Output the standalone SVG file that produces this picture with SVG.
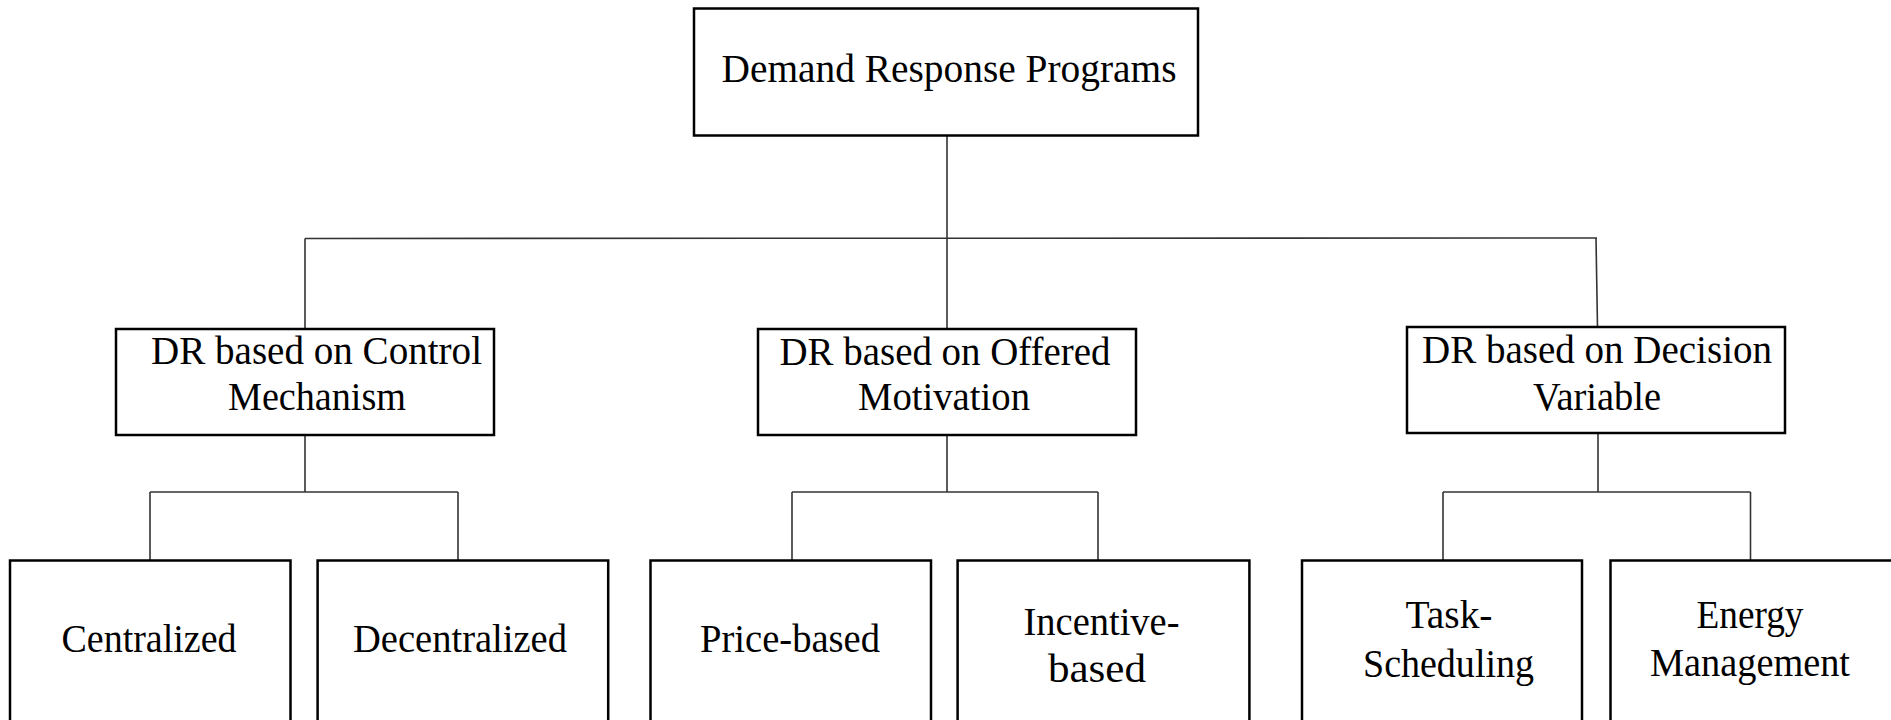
<svg xmlns="http://www.w3.org/2000/svg" width="1891" height="720" viewBox="0 0 1891 720">
<style>
.box{fill:#fff;stroke:#000;stroke-width:2.5}
.lbl{font-family:"Liberation Serif","Times New Roman",serif;font-size:40px;fill:#000;text-anchor:middle}
.conn line{stroke:#333;stroke-width:1.6;fill:none}
</style>
<rect width="1891" height="720" fill="#fff"/>
<g id="connectors" class="conn">
<line x1="947" y1="135" x2="947" y2="238"/>
<line x1="305" y1="238.5" x2="1597" y2="238"/>
<line x1="305" y1="238.5" x2="305" y2="329"/>
<line x1="947" y1="238" x2="947" y2="329"/>
<line x1="1596" y1="238" x2="1597.5" y2="327"/>
<line x1="305" y1="435" x2="305" y2="492"/>
<line x1="150" y1="492" x2="458" y2="492"/>
<line x1="150" y1="492" x2="150" y2="560"/>
<line x1="458" y1="492" x2="458" y2="560"/>
<line x1="947" y1="435" x2="947" y2="492"/>
<line x1="792" y1="492" x2="1098" y2="492"/>
<line x1="792" y1="492" x2="792" y2="560"/>
<line x1="1098" y1="492" x2="1098" y2="560"/>
<line x1="1598" y1="433" x2="1598" y2="492"/>
<line x1="1443" y1="492" x2="1750.5" y2="492"/>
<line x1="1443" y1="492" x2="1443" y2="560"/>
<line x1="1750.5" y1="492" x2="1750.5" y2="560"/>
</g>
<g id="root">
<rect class="box" x="694" y="8.5" width="504" height="127"/>
<text class="lbl" x="949" y="82" textLength="455" lengthAdjust="spacingAndGlyphs">Demand Response Programs</text>
</g>
<g id="control">
<rect class="box" x="116" y="329" width="378" height="106"/>
<text class="lbl" x="316.5" y="364" textLength="331" lengthAdjust="spacingAndGlyphs">DR based on Control</text>
<text class="lbl" x="317" y="410" textLength="178" lengthAdjust="spacingAndGlyphs">Mechanism</text>
</g>
<g id="motivation">
<rect class="box" x="758" y="329" width="378" height="106"/>
<text class="lbl" x="945" y="365" textLength="331" lengthAdjust="spacingAndGlyphs">DR based on Offered</text>
<text class="lbl" x="944" y="410" textLength="172" lengthAdjust="spacingAndGlyphs">Motivation</text>
</g>
<g id="decision">
<rect class="box" x="1407" y="327" width="378" height="106"/>
<text class="lbl" x="1597" y="363" textLength="350" lengthAdjust="spacingAndGlyphs">DR based on Decision</text>
<text class="lbl" x="1597" y="410" textLength="128" lengthAdjust="spacingAndGlyphs">Variable</text>
</g>
<g id="centralized">
<rect class="box" x="10" y="560.5" width="280.5" height="200"/>
<text class="lbl" x="149" y="652" textLength="175" lengthAdjust="spacingAndGlyphs">Centralized</text>
</g>
<g id="decentralized">
<rect class="box" x="317.6" y="560.5" width="290.6" height="200"/>
<text class="lbl" x="460" y="652" textLength="214" lengthAdjust="spacingAndGlyphs">Decentralized</text>
</g>
<g id="price">
<rect class="box" x="650.5" y="560.5" width="280.5" height="200"/>
<text class="lbl" x="790" y="652" textLength="180" lengthAdjust="spacingAndGlyphs">Price-based</text>
</g>
<g id="incentive">
<rect class="box" x="957.6" y="560.5" width="291.8" height="200"/>
<text class="lbl" x="1101.5" y="635" textLength="156" lengthAdjust="spacingAndGlyphs">Incentive-</text>
<text class="lbl" x="1097" y="682" textLength="98" lengthAdjust="spacingAndGlyphs">based</text>
</g>
<g id="task">
<rect class="box" x="1302" y="560.5" width="280" height="200"/>
<text class="lbl" x="1449" y="628" textLength="87" lengthAdjust="spacingAndGlyphs">Task-</text>
<text class="lbl" x="1448.5" y="677" textLength="171" lengthAdjust="spacingAndGlyphs">Scheduling</text>
</g>
<g id="energy">
<rect class="box" x="1610.5" y="560.5" width="300" height="200"/>
<text class="lbl" x="1750" y="628" textLength="107" lengthAdjust="spacingAndGlyphs">Energy</text>
<text class="lbl" x="1750" y="676" textLength="200" lengthAdjust="spacingAndGlyphs">Management</text>
</g>
</svg>
